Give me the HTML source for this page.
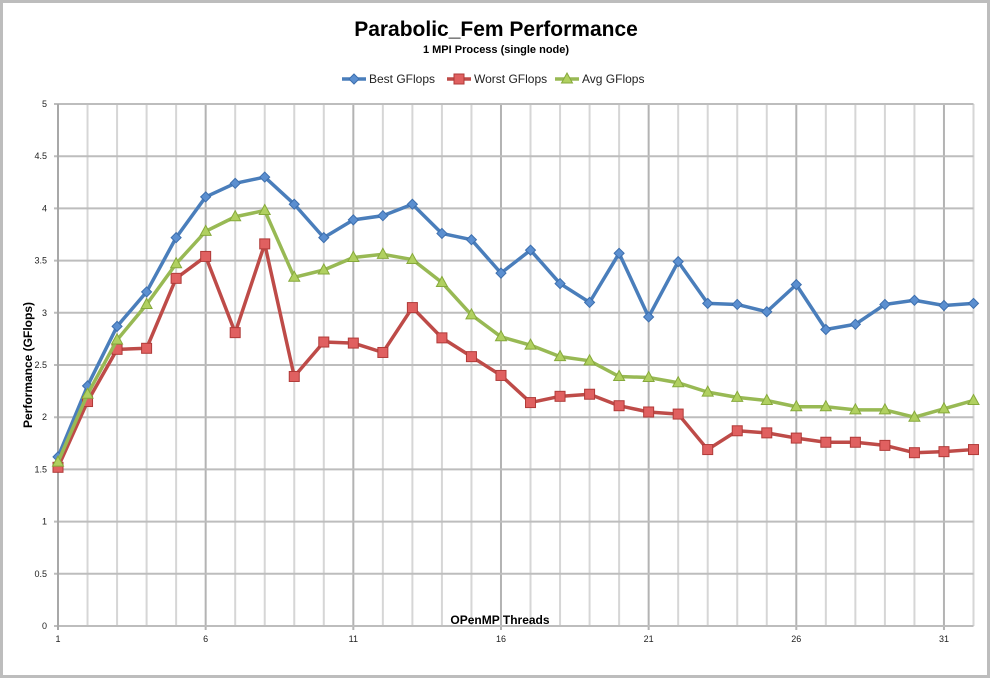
<!DOCTYPE html>
<html><head><meta charset="utf-8"><style>
html,body{margin:0;padding:0;background:#fff;}
svg{display:block;font-family:"Liberation Sans",sans-serif;}
</style></head><body>
<svg id="chart" width="992" height="680">
<rect x="1.5" y="1.5" width="987" height="675" fill="#fff" stroke="#bdbdbd" stroke-width="3"/>
<text x="496" y="36" text-anchor="middle" font-size="21" font-weight="bold">Parabolic_Fem Performance</text>
<text x="496" y="53" text-anchor="middle" font-size="11" font-weight="bold">1 MPI Process (single node)</text>
<g id="legend"></g>
<g id="grid"></g>
<g id="axes"></g>
<g id="series"></g>
<text x="500" y="624" text-anchor="middle" font-size="12" font-weight="bold">OPenMP Threads</text>
<text transform="translate(32,365) rotate(-90)" text-anchor="middle" font-size="12" font-weight="bold">Performance (GFlops)</text>
</svg>
<script>
const threads = [1,2,3,4,5,6,7,8,9,10,11,12,13,14,15,16,17,18,19,20,21,22,23,24,25,26,27,28,29,30,31,32];
const bestValues = [1.62,2.3,2.87,3.2,3.72,4.11,4.24,4.3,4.04,3.72,3.89,3.93,4.04,3.76,3.7,3.38,3.6,3.28,3.1,3.57,2.96,3.49,3.09,3.08,3.01,3.27,2.84,2.89,3.08,3.12,3.07,3.09];
const worstValues = [1.52,2.15,2.65,2.66,3.33,3.54,2.81,3.66,2.39,2.72,2.71,2.62,3.05,2.76,2.58,2.4,2.14,2.2,2.22,2.11,2.05,2.03,1.69,1.87,1.85,1.8,1.76,1.76,1.73,1.66,1.67,1.69];
const avgValues = [1.57,2.22,2.74,3.08,3.47,3.78,3.92,3.98,3.34,3.41,3.53,3.56,3.51,3.29,2.98,2.77,2.69,2.58,2.54,2.39,2.38,2.33,2.24,2.19,2.16,2.1,2.1,2.07,2.07,2.0,2.08,2.16];
const yTicks = [0,0.5,1,1.5,2,2.5,3,3.5,4,4.5,5];
const xTickLabels = [1,6,11,16,21,26,31];
const seriesNames = ["Best GFlops","Worst GFlops","Avg GFlops"];

const NS="http://www.w3.org/2000/svg";
const X0=58, X1=973.5, Y0=626, Y1=104;
function xs(t){return X0+(t-1)*(X1-X0)/31;}
function ys(v){return Y0-(v/5)*(Y0-Y1);}
function mk(tag,attrs,parent){const e=document.createElementNS(NS,tag);for(const k in attrs)e.setAttribute(k,attrs[k]);parent.appendChild(e);return e;}
const grid=document.getElementById('grid'), axes=document.getElementById('axes'), ser=document.getElementById('series'), leg=document.getElementById('legend');

threads.forEach(t=>{
  if(t===1) return;
  const major=(t-1)%5===0;
  const l=mk('line',{x1:xs(t),x2:xs(t),y1:Y1,y2:major?Y0+4:Y0,stroke:major?'#b3b3b3':'#d6d6d6','stroke-width':2},grid);
  
  
});
yTicks.forEach(v=>{
  const l=mk('line',{x1:X0-4,x2:X1,y1:ys(v),y2:ys(v),stroke:'#bdbdbd','stroke-width':2},grid);
  
  
  const tx=mk('text',{x:X0-11,y:ys(v)+3,'text-anchor':'end','font-size':9,fill:'#222'},axes);
  tx.textContent=v;
  
  
});
const ax=mk('line',{x1:X0,x2:X0,y1:Y1,y2:Y0+4,stroke:'#a8a8a8','stroke-width':2},axes);


xTickLabels.forEach(t=>{
  const tx=mk('text',{x:xs(t),y:Y0+16,'text-anchor':'middle','font-size':9,fill:'#222'},axes);
  tx.textContent=t;
  
  
});

function marker(kind,x,y,color,parent){
  let m;
  if(kind==='diamond') m=mk('polygon',{points:`${x},${y-5} ${x+5},${y} ${x},${y+5} ${x-5},${y}`,fill:'#5b8fd0',stroke:'#3d6fae','stroke-width':1},parent);
  else if(kind==='square') m=mk('rect',{x:x-5,y:y-5,width:10,height:10,fill:'#e06060',stroke:'#b03a38','stroke-width':1},parent);
  else m=mk('polygon',{points:`${x},${y-6} ${x+5.5},${y+4} ${x-5.5},${y+4}`,fill:'#b0d060',stroke:'#86a93b','stroke-width':1},parent);
  return m;
}
const defs=[[bestValues,'#4a7ebb','diamond'],[worstValues,'#be4b48','square'],[avgValues,'#98b954','triangle']];
const sNames=['best-series','worst-series','avg-series'];
defs.forEach((d,i)=>{
  const g=mk('g',{},ser);
  
  
  const pts=d[0].map((v,j)=>xs(threads[j])+','+ys(v)).join(' ');
  const pl=mk('polyline',{points:pts,fill:'none',stroke:d[1],'stroke-width':3.5,'stroke-linejoin':'round'},g);
  
  
  d[0].forEach((v,j)=>{
    const m=marker(d[2],xs(threads[j]),ys(v),d[1],g);
    
    
  });
});
const legX=[342,447,555];
seriesNames.forEach((n,i)=>{
  const g=mk('g',{},leg);
  
  
  mk('line',{x1:legX[i],x2:legX[i]+24,y1:79,y2:79,stroke:defs[i][1],'stroke-width':3.5},g);
  marker(defs[i][2],legX[i]+12,79,defs[i][1],g);
  const t=mk('text',{x:legX[i]+27,y:83,'font-size':12,fill:'#222'},g);
  t.textContent=n;
});
</script>
</body></html>
